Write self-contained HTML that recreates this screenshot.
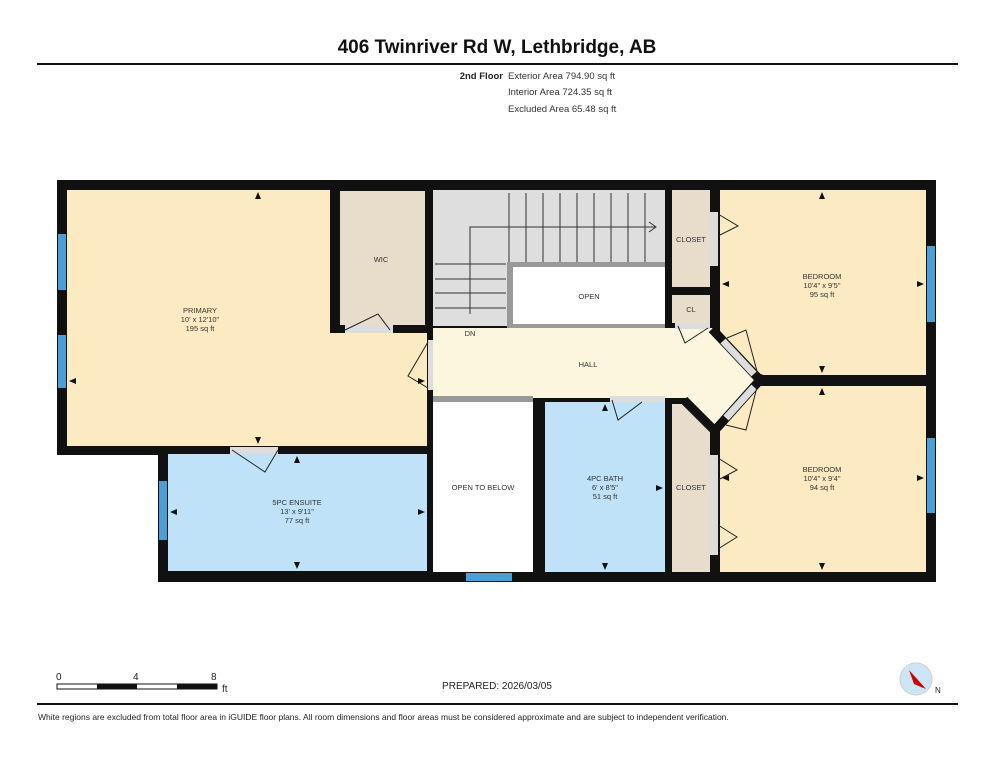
<!DOCTYPE html>
<html><head><meta charset="utf-8"><style>
body{margin:0;background:#fff;width:994px;height:768px;overflow:hidden}
svg{display:block}
text{font-family:"Liberation Sans",Arial,sans-serif}
</style></head><body>
<svg width="994" height="768" viewBox="0 0 994 768" xmlns="http://www.w3.org/2000/svg">
<text x="497" y="53" font-size="19" font-weight="bold" text-anchor="middle" fill="#111">406 Twinriver Rd W, Lethbridge, AB</text>
<rect x="37" y="63" width="921" height="2" fill="#111"/>
<text x="503" y="79" font-size="9.5" font-weight="bold" text-anchor="end" fill="#222">2nd Floor</text>
<text x="508" y="79" font-size="9.5" fill="#333">Exterior Area 794.90 sq ft</text>
<text x="508" y="95" font-size="9.5" fill="#333">Interior Area 724.35 sq ft</text>
<text x="508" y="112" font-size="9.5" fill="#333">Excluded Area 65.48 sq ft</text>

<!-- wall base -->
<rect x="57" y="180" width="879" height="275" fill="#111"/>
<rect x="158" y="440" width="778" height="142" fill="#111"/>

<!-- rooms -->
<rect x="67" y="190" width="263" height="256" fill="#fcebc2"/>
<rect x="330" y="333" width="97" height="113" fill="#fcebc2"/>
<rect x="340" y="191" width="85" height="134" fill="#e8dccb"/>
<rect x="168" y="454" width="259" height="117" fill="#bfe2f8"/>
<rect x="433" y="190" width="232" height="136" fill="#dedede"/>
<rect x="507" y="262" width="158" height="68" fill="#999"/>
<rect x="513" y="267" width="152" height="57" fill="#fff"/>
<rect x="672" y="190" width="38" height="97" fill="#e8dccb"/>
<rect x="672" y="295" width="38" height="28" fill="#e8dccb"/>
<polygon points="720,190 926,190 926,375 752,375 716,334 720,334" fill="#fcebc2"/>
<polygon points="720,386 926,386 926,572 720,572 720,428 752,386" fill="#fcebc2"/>
<polygon points="433,328 712,328 760,380 717,428 686,398 433,398" fill="#fdf6df"/>
<rect x="433" y="396" width="100" height="6" fill="#999"/>
<rect x="433" y="402" width="100" height="170" fill="#fff"/>
<rect x="545" y="402" width="120" height="170" fill="#bfe2f8"/>
<polygon points="672,402 684,402 710,428 710,572 672,572" fill="#e8dccb"/>
<!-- walls around pointed hall -->
<rect x="665" y="398" width="22" height="6" fill="#111"/>
<line x1="684" y1="400" x2="716" y2="432" stroke="#111" stroke-width="9"/>
<rect x="710" y="428" width="10" height="145" fill="#111"/>
<line x1="712" y1="329" x2="760" y2="380" stroke="#111" stroke-width="9"/>
<line x1="760" y1="380" x2="717" y2="428" stroke="#111" stroke-width="9"/>
<line x1="723" y1="341" x2="754" y2="374" stroke="#ddd" stroke-width="7"/>
<line x1="754" y1="387" x2="726" y2="418" stroke="#ddd" stroke-width="7"/>
<rect x="756" y="375" width="180" height="11" fill="#111"/>
<circle cx="760" cy="380" r="6" fill="#111"/>

<!-- stairs lines -->
<g stroke="#333" stroke-width="1">
<line x1="509" y1="193" x2="509" y2="262"/><line x1="526" y1="193" x2="526" y2="262"/><line x1="543" y1="193" x2="543" y2="262"/><line x1="560" y1="193" x2="560" y2="262"/><line x1="577" y1="193" x2="577" y2="262"/><line x1="594" y1="193" x2="594" y2="262"/><line x1="611" y1="193" x2="611" y2="262"/><line x1="628" y1="193" x2="628" y2="262"/><line x1="645" y1="193" x2="645" y2="262"/>
<line x1="435" y1="264" x2="506" y2="264"/><line x1="435" y1="279" x2="506" y2="279"/><line x1="435" y1="293" x2="506" y2="293"/><line x1="435" y1="308" x2="506" y2="308"/>
<polyline points="470,314 470,227 655,227" fill="none"/>
<polyline points="649,222 656,227 649,232" fill="none"/>
</g>

<!-- windows -->
<g fill="#4a9fd4">
<rect x="58" y="234" width="8" height="56"/><rect x="58" y="335" width="8" height="53"/>
<rect x="159" y="481" width="8" height="59"/><rect x="466" y="573" width="46" height="8"/>
<rect x="927" y="246" width="8" height="76"/><rect x="927" y="438" width="8" height="75"/>
</g>
<!-- doors -->
<g fill="#ddd">
<rect x="345" y="325" width="48" height="8"/><rect x="428" y="340" width="5" height="50"/>
<rect x="230" y="447" width="48" height="7"/><rect x="710" y="212" width="8" height="54"/>
<rect x="675" y="323" width="35" height="6"/><rect x="610" y="396" width="55" height="6"/>
<rect x="710" y="455" width="8" height="100"/>
</g>
<g stroke="#222" fill="none" stroke-width="1">
<polyline points="718,214 738,226 718,236"/><polyline points="345,330 378,314 390,330"/>
<polyline points="428,342 408,376 428,388"/><polyline points="232,450 265,472 278,450"/>
<polyline points="678,326 685,343 708,328"/><polyline points="612,400 618,420 642,402"/>
<polyline points="718,458 737,470 718,480"/><polyline points="718,525 737,537 718,549"/>
<polyline points="727,338 746,330 758,375"/><polyline points="757,387 746,430 726,425"/>
</g>
<!-- dimension markers -->
<g fill="#111">
<polygon points="258,192 255,199 261,199"/><polygon points="258,444 255,437 261,437"/>
<polygon points="69,381 76,378 76,384"/><polygon points="425,381 418,378 418,384"/>
<polygon points="297,456 294,463 300,463"/><polygon points="297,569 294,562 300,562"/>
<polygon points="170,512 177,509 177,515"/><polygon points="425,512 418,509 418,515"/>
<polygon points="605,404 602,411 608,411"/><polygon points="605,570 602,563 608,563"/>
<polygon points="663,488 656,485 656,491"/>
<polygon points="822,192 819,199 825,199"/><polygon points="822,373 819,366 825,366"/>
<polygon points="722,284 729,281 729,287"/><polygon points="924,284 917,281 917,287"/>
<polygon points="822,388 819,395 825,395"/><polygon points="822,570 819,563 825,563"/>
<polygon points="722,478 729,475 729,481"/><polygon points="924,478 917,475 917,481"/>
</g>

<!-- text -->
<g font-size="7.5" fill="#333" text-anchor="middle">
<text x="200" y="313">PRIMARY</text><text x="200" y="322">10' x 12'10"</text><text x="200" y="331">195 sq ft</text>
<text x="381" y="262">WIC</text>
<text x="297" y="505">5PC ENSUITE</text><text x="297" y="514">13' x 9'11"</text><text x="297" y="523">77 sq ft</text>
<text x="589" y="299">OPEN</text><text x="470" y="336">DN</text><text x="588" y="367">HALL</text>
<text x="691" y="242">CLOSET</text><text x="691" y="312">CL</text>
<text x="822" y="279">BEDROOM</text><text x="822" y="288">10'4" x 9'5"</text><text x="822" y="297">95 sq ft</text>
<text x="822" y="472">BEDROOM</text><text x="822" y="481">10'4" x 9'4"</text><text x="822" y="490">94 sq ft</text>
<text x="483" y="490">OPEN TO BELOW</text>
<text x="605" y="481">4PC BATH</text><text x="605" y="490">6' x 8'5"</text><text x="605" y="499">51 sq ft</text>
<text x="691" y="490">CLOSET</text>
</g>

<!-- scale -->
<rect x="57" y="684" width="160" height="5" fill="#fff" stroke="#111" stroke-width="1"/>
<rect x="97" y="684" width="40" height="5" fill="#111"/><rect x="177" y="684" width="40" height="5" fill="#111"/>
<g font-size="10" fill="#222"><text x="56" y="680">0</text><text x="133" y="680">4</text><text x="211" y="680">8</text><text x="222" y="692">ft</text></g>
<text x="497" y="689" font-size="10" text-anchor="middle" fill="#222">PREPARED: 2026/03/05</text>
<circle cx="916" cy="679" r="16" fill="#cde6f6" stroke="#ccc"/>
<polygon points="909,670 926,689 914,684" fill="#c00"/>
<text x="935" y="693" font-size="8" fill="#222">N</text>
<rect x="37" y="703" width="921" height="2" fill="#111"/>
<text x="38" y="720" font-size="8.5" fill="#222">White regions are excluded from total floor area in iGUIDE floor plans. All room dimensions and floor areas must be considered approximate and are subject to independent verification.</text>
</svg>
</body></html>
